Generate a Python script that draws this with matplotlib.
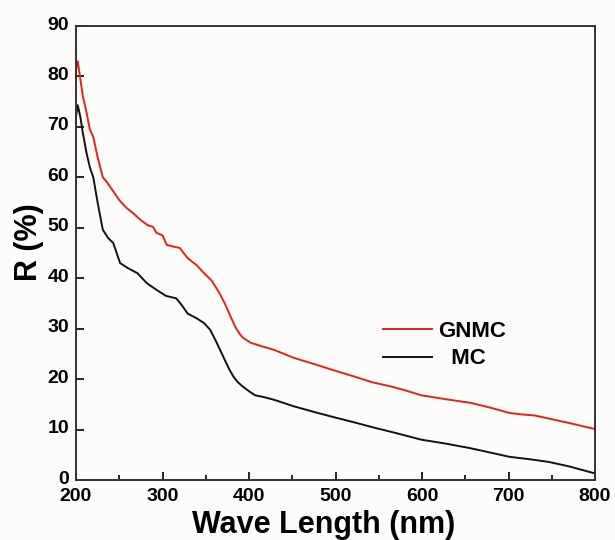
import numpy as np
import matplotlib
matplotlib.use('Agg')
import matplotlib.pyplot as plt
from matplotlib.ticker import MultipleLocator
from matplotlib.transforms import ScaledTranslation

# --- DANE ---
wl_gnmc = [200, 202, 205, 208, 212, 216, 220, 225, 231, 236, 242, 250, 258, 266, 275,
           283, 289, 293, 300, 305, 312, 320, 329, 340, 348, 357, 366, 372, 379, 384,
           389, 393, 402, 415, 429, 452, 475, 497, 520, 542, 565, 582, 599, 628, 656,
           680, 701, 715, 730, 746, 770, 800]
r_gnmc = [81.5, 83.0, 79.5, 76.0, 73.0, 69.5, 68.0, 64.0, 60.0, 59.0, 57.5, 55.5, 54.0, 52.9, 51.5,
          50.5, 50.2, 49.0, 48.5, 46.6, 46.3, 46.0, 44.0, 42.5, 41.0, 39.5, 37.0, 35.0, 32.3, 30.4,
          29.0, 28.2, 27.2, 26.5, 25.8, 24.2, 23.0, 21.8, 20.6, 19.4, 18.5, 17.7, 16.8, 16.0, 15.3,
          14.3, 13.3, 13.0, 12.8, 12.2, 11.3, 10.1]

wl_mc = [200, 202, 205, 208, 212, 216, 220, 225, 231, 237, 243, 251, 260, 271, 282,
         293, 304, 316, 323, 329, 340, 348, 355, 361, 366, 372, 377, 382, 387, 393,
         400, 407, 418, 429, 452, 475, 497, 520, 542, 570, 599, 628, 656, 680, 701,
         725, 746, 770, 800]
r_mc = [72.0, 74.3, 72.0, 68.7, 65.0, 62.0, 60.0, 55.0, 49.6, 48.0, 47.0, 43.0, 42.0, 41.0, 39.0,
        37.7, 36.5, 36.0, 34.5, 33.0, 32.0, 31.1, 29.8, 27.8, 26.0, 23.8, 22.0, 20.5, 19.4, 18.5,
        17.6, 16.8, 16.4, 15.9, 14.6, 13.5, 12.5, 11.5, 10.5, 9.3, 8.0, 7.2, 6.3, 5.4, 4.6,
        4.1, 3.6, 2.7, 1.3]

labels = ['GNMC', '  MC']

# --- RYSOWANIE ---
plt.rcParams['font.family'] = ['Liberation Sans', 'DejaVu Sans']
plt.rcParams['font.weight'] = 'bold'

fig = plt.figure(figsize=(6.15, 5.4), dpi=100)
fig.patch.set_facecolor('#fdfcfa')
ax = fig.add_axes([76/615, 1 - 480/540, (595 - 76)/615, (480 - 26)/540])
ax.set_facecolor('#fdfcfa')

ax.plot(wl_gnmc, r_gnmc, color='#e3221b', lw=1.4, label=labels[0])
ax.plot(wl_mc, r_mc, color='#111111', lw=1.4, label=labels[1])

ax.set_xlim(200, 800)
ax.set_ylim(0, 90)
ax.xaxis.set_major_locator(MultipleLocator(100))
ax.xaxis.set_minor_locator(MultipleLocator(50))
ax.yaxis.set_major_locator(MultipleLocator(10))

ax.tick_params(axis='both', which='major', direction='in', length=6, width=1.2,
               labelsize=14, top=False, right=False)
ax.tick_params(axis='x', which='major', pad=6)
ax.tick_params(axis='y', which='major', pad=5)
ax.tick_params(axis='x', which='minor', direction='in', length=3.6, width=1.2, top=False)

for sp in ax.spines.values():
    sp.set_linewidth(1.4)
    sp.set_color('#333333')

ax.set_xlabel('Wave Length (nm)', fontsize=22, fontweight='bold')
ax.xaxis.set_label_coords((324 - 76)/519, -(510 - 480)/454)
ax.set_ylabel('R (%)', fontsize=22, fontweight='bold')
ax.yaxis.set_label_coords(-(76 - 44)/519, 1 - (242.5 - 26)/454)

ax.legend(loc='center left', bbox_to_anchor=((383 - 76)/519, 1 - (345 - 26)/454),
          frameon=False, handlelength=2.2, handletextpad=0.3,
          labelspacing=0.3, borderpad=0, borderaxespad=0,
          prop={'weight': 'bold', 'size': 16})

# etykiety osi Y lekko nad kreskami (jak w oryginale)
fig.canvas.draw()
podniesienie = ScaledTranslation(0, 0.03, fig.dpi_scale_trans)
for lab in ax.get_yticklabels():
    lab.set_fontweight('bold')
    lab.set_transform(lab.get_transform() + podniesienie)
for lab in ax.get_xticklabels():
    lab.set_fontweight('bold')

fig.savefig('out.png', dpi=100, facecolor=fig.get_facecolor())
